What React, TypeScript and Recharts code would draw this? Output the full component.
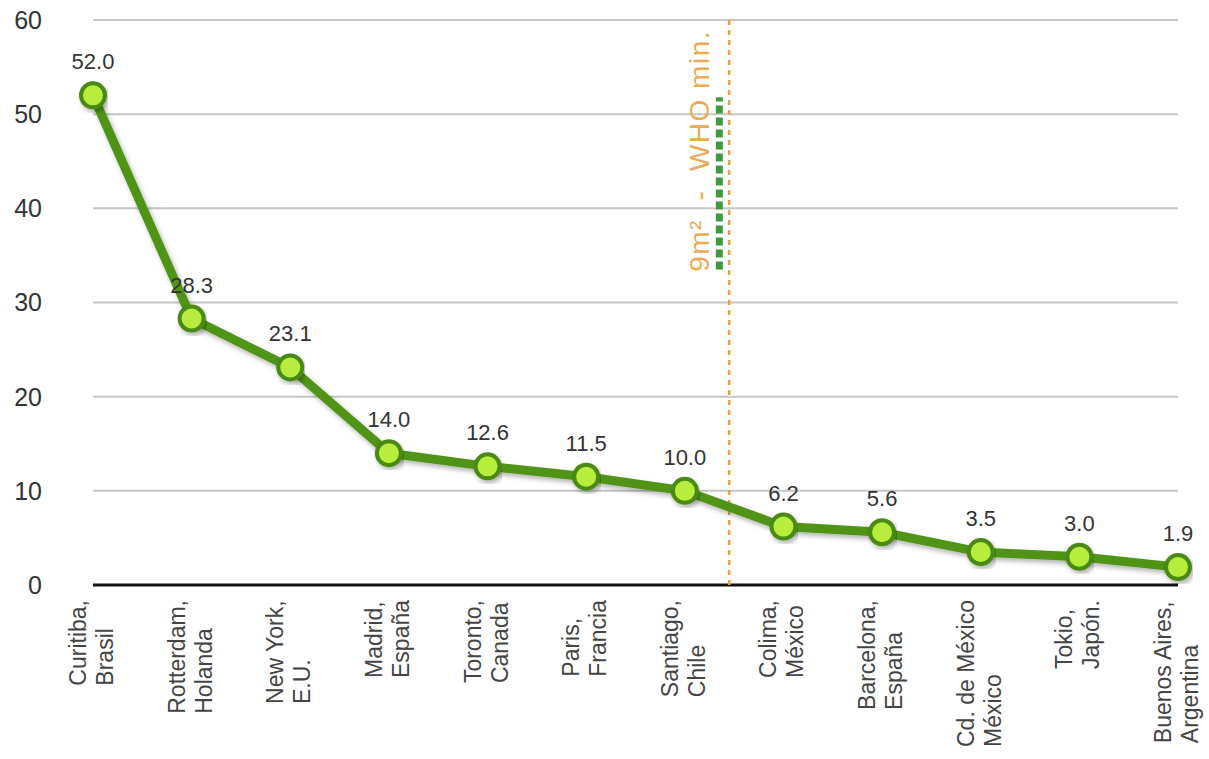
import React from "react";
import {
  LineChart,
  Line,
  XAxis,
  YAxis,
  CartesianGrid,
  ReferenceLine,
  ReferenceDot,
  LabelList,
} from "recharts";

// ---- data ----
const cityLines: string[] = [
  "Curitiba,",
  "Rotterdam,",
  "New York,",
  "Madrid,",
  "Toronto,",
  "Paris,",
  "Santiago,",
  "Colima,",
  "Barcelona,",
  "Cd. de México",
  "Tokio,",
  "Buenos Aires,",
];
const countryLines: string[] = [
  "Brasil",
  "Holanda",
  "E.U.",
  "España",
  "Canada",
  "Francia",
  "Chile",
  "México",
  "España",
  "México",
  "Japón.",
  "Argentina",
];
const greenArea: number[] = [52.0, 28.3, 23.1, 14.0, 12.6, 11.5, 10.0, 6.2, 5.6, 3.5, 3.0, 1.9];
const yTicks: number[] = [0, 10, 20, 30, 40, 50, 60];
const xTicks: number[] = cityLines.map((_, i) => i);

// WHO minimum annotation (data units)
const whoLineX = 6.45;
const whoText = "9m²  -  WHO min.";
const whoTextPos = { x: 6.25, y: 46.1 };
const whoBar = { x: 6.35, from: 33.5, to: 51.8 };

const rows = greenArea.map((v, i) => ({ idx: i, value: v }));

const FONT = '"Liberation Sans", Arial, Helvetica, sans-serif';
const X_FONT_SIZE = 23;

let ctx: CanvasRenderingContext2D | null = null;
const measure = (s: string): number => {
  try {
    if (!ctx) ctx = document.createElement("canvas").getContext("2d");
    if (ctx) {
      ctx.font = `${X_FONT_SIZE}px "Liberation Sans"`;
      return ctx.measureText(s).width;
    }
  } catch (e) {}
  return s.length * X_FONT_SIZE * 0.52;
};

const XTick = (props: any) => {
  const { x, y, payload } = props;
  const i = Math.round(payload.value);
  const l1 = cityLines[i] ?? "";
  const l2 = countryLines[i] ?? "";
  const w = Math.max(measure(l1), measure(l2));
  const bottom = y + w;
  return (
    <g transform={`translate(${x},${bottom}) rotate(-90)`}>
      <text x={0} y={-7} textAnchor="start" fontSize={X_FONT_SIZE} fill="#444" fontFamily={FONT}>
        {l1}
      </text>
      <text x={0} y={20} textAnchor="start" fontSize={X_FONT_SIZE} fill="#444" fontFamily={FONT}>
        {l2}
      </text>
    </g>
  );
};

const WhoLabel = (props: any) => {
  const vb = props.viewBox || {};
  const cx = (vb.x ?? 0) + (vb.width ?? 0) / 2;
  const cy = (vb.y ?? 0) + (vb.height ?? 0) / 2;
  return (
    <text
      x={cx}
      y={cy}
      transform={`rotate(-90, ${cx}, ${cy})`}
      textAnchor="middle"
      fontSize={28}
      fill="#EBAA55"
      fontFamily={FONT}
      letterSpacing={1.5}
      style={{ whiteSpace: "pre" }}
    >
      {whoText}
    </text>
  );
};

export default function App() {
  return (
    <div style={{ position: "absolute", left: 0, top: 0, background: "#fff", fontFamily: FONT }}>
      <LineChart
        width={1209}
        height={759}
        data={rows}
        margin={{ top: 20, right: 31, bottom: 0, left: 33 }}
      >
        <defs>
          <filter id="lineShadow" x="-10%" y="-10%" width="120%" height="130%">
            <feDropShadow dx="2" dy="3" stdDeviation="2.5" floodColor="#000" floodOpacity="0.3" />
          </filter>
        </defs>
        <CartesianGrid horizontal vertical={false} stroke="#c6c6c6" strokeWidth={2} />
        <XAxis
          dataKey="idx"
          type="number"
          domain={[0, 11]}
          ticks={xTicks}
          interval={0}
          axisLine={false}
          tickLine={false}
          tickSize={0}
          tickMargin={15}
          height={174}
          tick={<XTick />}
        />
        <YAxis
          domain={[0, 60]}
          ticks={yTicks}
          axisLine={false}
          tickLine={false}
          tickSize={0}
          tickMargin={51}
          width={60}
          tick={{ fontSize: 25, fill: "#333", fontFamily: FONT }}
        />
        <ReferenceLine y={0} stroke="#111" strokeWidth={3} />
        <ReferenceLine
          x={whoLineX}
          stroke="#EDA040"
          strokeWidth={2.5}
          strokeDasharray="5 5"
        />
        <ReferenceLine
          segment={[
            { x: whoBar.x, y: whoBar.from },
            { x: whoBar.x, y: whoBar.to },
          ]}
          stroke="#3f9a3f"
          strokeWidth={7}
          strokeDasharray="8 4"
        />
        <ReferenceDot
          x={whoTextPos.x}
          y={whoTextPos.y}
          r={1}
          fill="none"
          stroke="none"
          label={<WhoLabel />}
        />
        <Line
          type="linear"
          dataKey="value"
          stroke="#4F9419"
          strokeWidth={9}
          filter="url(#lineShadow)"
          isAnimationActive={false}
          dot={{ r: 12, fill: "#B7EE3E", stroke: "#4A8A12", strokeWidth: 4 }}
          activeDot={false}
        >
          <LabelList
            dataKey="value"
            position="top"
            offset={26}
            formatter={(v: any) => Number(v).toFixed(1)}
            style={{ fontSize: 22, fill: "#333", fontFamily: FONT }}
          />
        </Line>
      </LineChart>
    </div>
  );
}
